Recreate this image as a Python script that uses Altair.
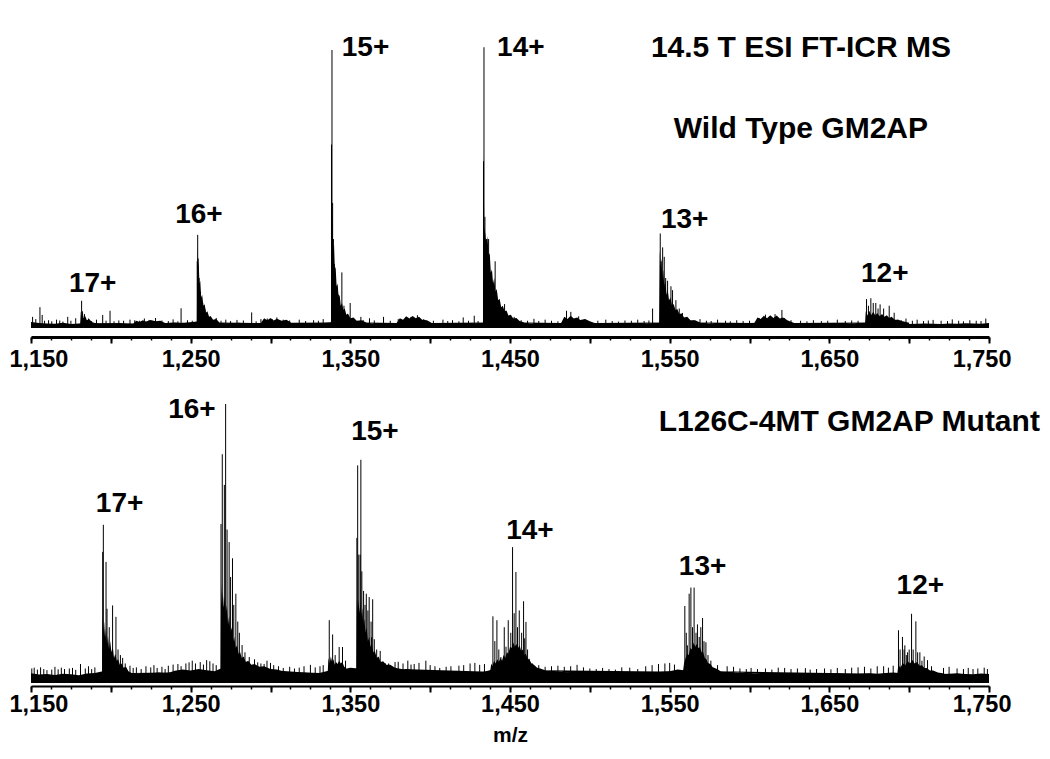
import altair as alt
import pandas as pd

X_MIN, X_MAX = 1150, 1750
FLOOR_STEP = 5
MAJOR_TICKS = [1150, 1200, 1250, 1300, 1350, 1400, 1450, 1500, 1550, 1600, 1650, 1700, 1750]
MINOR_TICKS = [1150, 1162.5, 1175, 1187.5, 1200, 1212.5, 1225, 1237.5, 1250, 1262.5, 1275, 1287.5,
               1300, 1312.5, 1325, 1337.5, 1350, 1362.5, 1375, 1387.5, 1400, 1412.5, 1425, 1437.5,
               1450, 1462.5, 1475, 1487.5, 1500, 1512.5, 1525, 1537.5, 1550, 1562.5, 1575, 1587.5,
               1600, 1612.5, 1625, 1637.5, 1650, 1662.5, 1675, 1687.5, 1700, 1712.5, 1725, 1737.5, 1750]

# ---------------- Wild type (top) ----------------
top_floor = [2.2, 1.8, 1.6, 1.5, 1.9, 1.4, 1.6, 2.0, 1.7, 1.5,
             1.6, 1.8, 1.5, 1.4, 1.7, 1.9, 1.6, 1.8, 2.0, 1.7,
             2.1, 2.4, 2.0, 1.8, 1.6, 1.7, 1.9, 1.6, 1.8, 1.7,
             1.9, 1.8, 1.6, 1.5, 1.7, 1.4, 1.6, 1.9, 2.2, 2.0,
             1.8, 1.7, 1.6, 1.5, 1.6, 1.4, 1.5, 1.7, 1.6, 1.5,
             1.4, 1.5, 1.6, 1.7, 1.5, 1.8, 1.6, 2.0, 2.2, 1.9,
             1.7, 1.6, 1.5, 1.4, 1.6, 1.5, 1.7, 1.6, 1.8, 1.7,
             1.6, 1.5, 1.4, 1.6, 1.5, 1.7, 1.5, 1.6, 1.5, 2.0,
             2.2, 1.9, 1.7, 1.6, 1.5, 1.4, 1.6, 1.5, 1.7, 1.6,
             1.8, 1.9, 1.7, 1.6, 1.5, 1.4, 1.6, 1.5, 1.4, 1.6,
             1.5, 1.4, 1.6, 1.5, 1.8, 1.9, 1.7, 1.6, 1.5, 1.6,
             1.4, 1.5, 1.6, 1.5, 1.4, 1.6, 1.5, 1.7, 1.6, 1.5,
             1.8]

top_clusters = {
    "z17": [(1180.8, 1.8), (1181.2, 6), (1181.8, 4), (1182.3, 5.5), (1183, 3.5), (1184, 4.2),
            (1185, 2.8), (1186.5, 3.2), (1188, 2.2), (1190, 1.8)],
    "h1": [(1214, 1.6), (1216, 2.6), (1218, 2.2), (1220, 2.8), (1222, 2.3), (1225, 2.9),
           (1228, 2.4), (1231, 2.6), (1234, 1.8)],
    "z16": [(1253.9, 2), (1254.2, 30), (1254.6, 22), (1255, 24), (1255.5, 16), (1256, 17),
            (1256.6, 11), (1257.2, 12), (1258, 8), (1258.8, 8.5), (1259.6, 5.5), (1260.5, 6),
            (1261.5, 4), (1262.5, 4.3), (1264, 3), (1266, 3.2), (1268, 2)],
    "h2": [(1294, 1.8), (1296, 3.5), (1298, 2.8), (1300, 3.6), (1302, 2.7), (1304, 3.3),
           (1307, 2.6), (1310, 3), (1313, 1.9)],
    "z15": [(1337.9, 2), (1338.2, 62), (1338.6, 40), (1339, 33), (1339.4, 28), (1339.8, 30),
            (1340.3, 21), (1340.8, 22), (1341.4, 15), (1342, 16), (1342.7, 11), (1343.3, 12),
            (1344, 8), (1344.8, 9), (1345.6, 6.5), (1346.5, 7), (1347.5, 4.8), (1348.5, 5.2),
            (1350, 3.5), (1352, 3.8), (1354, 2.6), (1357, 2.8), (1360, 2)],
    "h3": [(1379, 1.8), (1381, 3.5), (1383, 3), (1385, 4.2), (1387, 3.4), (1389, 4.3),
           (1391, 3.5), (1393, 4), (1395, 3), (1398, 2.8), (1401, 1.8)],
    "z14": [(1433.1, 2), (1433.4, 62), (1433.9, 36), (1434.5, 34), (1435.2, 30), (1435.9, 33),
            (1436.6, 26), (1437.3, 27), (1438, 20), (1438.7, 21), (1439.4, 16), (1440.1, 18),
            (1440.9, 13), (1441.7, 14), (1442.6, 10), (1443.5, 10.5), (1444.5, 7.5),
            (1445.5, 8), (1446.6, 6), (1447.8, 6.3), (1449, 4.5), (1450.5, 4.8), (1452, 3.4),
            (1454, 3.6), (1456, 2.5), (1459, 2)],
    "h4": [(1482, 1.8), (1484, 4), (1486, 3.2), (1488, 4.4), (1490, 3.4), (1492, 3.8),
           (1494, 2.9), (1497, 3.2), (1500, 2.4), (1503, 1.8)],
    "z13": [(1543.4, 2), (1543.8, 28), (1544.3, 22), (1544.8, 25), (1545.4, 18), (1546, 21),
            (1546.6, 15), (1547.3, 17), (1548, 12), (1548.8, 13.5), (1549.6, 10), (1550.5, 11),
            (1551.5, 8), (1552.5, 8.6), (1553.6, 6.5), (1554.8, 6.8), (1556, 5), (1557.5, 5.2),
            (1559, 3.8), (1561, 4), (1563, 2.8), (1566, 2.8), (1569, 2)],
    "h5": [(1603, 1.8), (1605, 3.8), (1607, 3.2), (1609, 4.4), (1611, 3.5), (1613, 4.6),
           (1615, 3.6), (1617, 4.5), (1619, 3.4), (1621, 3.8), (1624, 2.7), (1628, 1.8)],
    "z12": [(1672.4, 2), (1672.8, 6), (1673.8, 4.5), (1675, 6.2), (1676.2, 4.6), (1677.5, 5.8),
            (1678.8, 4.5), (1680, 5.4), (1681.5, 4.2), (1683, 5), (1684.5, 4), (1686, 4.6),
            (1687.5, 3.6), (1689, 4), (1691, 3), (1693, 3), (1696, 2.4), (1700, 1.9)],
}

top_spikes = [
    (1151, 4), (1153, 3.2), (1155.6, 7.5), (1157, 4.7), (1158.5, 2.6), (1161, 2.8), (1163, 2.4),
    (1166, 3.0), (1168, 2.7), (1170, 2.3), (1173, 4), (1175, 2.6), (1178, 3.5), (1181.7, 9.8),
    (1182.3, 6), (1183.5, 5), (1186, 3.4), (1188, 2.5), (1191, 3.0), (1194.9, 4.7), (1197, 2.6),
    (1199.5, 6.2), (1202, 2.4), (1205, 2.7), (1208, 2.6), (1212, 3.0), (1215, 2.8), (1218, 2.6),
    (1221, 3.4), (1224, 2.9), (1228, 3.6), (1232, 2.7), (1236, 2.5), (1239, 3.1), (1242, 2.4),
    (1244, 7.1), (1248, 2.8), (1251, 2.6), (1254.1, 24), (1254.4, 33.5), (1254.7, 25),
    (1255.3, 18), (1256, 13), (1256.8, 10), (1257.5, 9), (1259, 6.7), (1260, 5.5), (1263, 2.8),
    (1266, 3.6), (1269, 2.6), (1272, 3.0), (1275, 2.5), (1279, 2.9), (1283, 2.7), (1288.2, 5.6),
    (1291, 2.4), (1294, 3.2), (1298, 3.4), (1301, 3.2), (1304, 3.8), (1308, 3.0), (1312, 2.7),
    (1318, 3.0), (1322, 2.5), (1327, 2.8), (1330, 2.6), (1333, 3.2),
    (1338.2, 66), (1338.5, 100), (1338.9, 45), (1339.4, 32), (1340, 23), (1340.7, 18),
    (1341.5, 15), (1342.5, 12), (1344.7, 20), (1346, 8), (1349.9, 9), (1352, 3.0),
    (1356.6, 4), (1358, 2.9), (1362, 3.5), (1365, 2.7), (1370.8, 4), (1375, 2.6), (1380, 3.2),
    (1385, 3.8), (1388, 4.0), (1392, 4.6), (1396, 3.2), (1402, 2.6), (1408, 3.0), (1411, 2.5),
    (1414, 2.8), (1418, 2.4), (1420.7, 3.8), (1424, 2.6), (1427.6, 4.4), (1430, 2.5),
    (1433.4, 60), (1433.7, 101), (1434.3, 40), (1435.3, 32), (1436.6, 32), (1438, 18),
    (1439.2, 16), (1440.7, 24), (1443, 10), (1446.6, 8.6), (1452.6, 4), (1457, 2.8),
    (1461, 2.6), (1465, 3.3), (1468, 2.5), (1472, 3.0), (1476, 2.6), (1480, 2.4),
    (1485.4, 6.2), (1488.1, 5.8), (1493, 4.2), (1497, 3.0), (1505, 2.6), (1510, 3.0),
    (1514, 2.5), (1518, 2.3), (1522, 2.7), (1526, 2.6), (1530, 3.0), (1534, 2.5), (1537, 2.7),
    (1539.3, 7), (1544.1, 34), (1544.6, 24), (1545.6, 29), (1546.6, 25.6), (1547.5, 18),
    (1548.7, 17), (1550.8, 15), (1551.8, 13.6), (1553.9, 10), (1556, 7), (1558, 5.4),
    (1562, 3.0), (1565, 2.8), (1569, 3.2), (1573, 2.6), (1576, 2.5), (1580, 3.0), (1585, 2.6),
    (1588, 2.4), (1592, 2.8), (1596, 2.5), (1600, 2.6), (1606, 3.6), (1610, 4.8), (1613, 4.2),
    (1616, 5.0), (1620.3, 6.5), (1622, 3.6), (1626, 2.8), (1632, 2.6), (1636, 2.4), (1640, 2.8),
    (1645, 2.5), (1649, 2.6), (1655, 3.0), (1660, 2.5), (1664, 2.7), (1668, 2.6),
    (1673.3, 10.4), (1674.5, 8), (1676, 10.7), (1677.5, 9), (1679.1, 9), (1680.5, 7),
    (1681.8, 8.5), (1684, 7), (1687.5, 8), (1690.6, 5.5), (1693, 3.0), (1695, 2.8),
    (1698, 3.4), (1702, 2.6), (1705, 3.0), (1709, 2.5), (1712, 2.7), (1715, 2.9), (1720, 2.6),
    (1724, 2.5), (1727, 3.1), (1731, 2.6), (1734, 2.4), (1738, 2.8), (1742, 2.6), (1745, 2.5),
    (1748, 3.4),
]

top_charge_labels = [("17+", 1188.6, 15.8), ("16+", 1255.2, 40.8), ("15+", 1359.5, 100.8),
                     ("14+", 1456.8, 100.8), ("13+", 1559.4, 38.9), ("12+", 1684.7, 19.3)]
top_titles = [("14.5 T ESI FT-ICR MS", 1632.2, 100.7), ("Wild Type GM2AP", 1632.2, 71.6)]

# ---------------- L126C-4MT mutant (bottom) ----------------
bot_floor = [3.5, 3.0, 3.2, 2.9, 3.3, 3.1, 2.8, 3.4, 3.6, 4.2,
             3.8, 3.4, 3.3, 3.6, 3.2, 3.5, 3.8, 3.4, 4.4, 4.8,
             4.5, 5.0, 4.6, 4.2, 5.5, 5.2, 4.8, 4.6, 5.0, 4.4,
             4.8, 4.5, 4.2, 4.0, 3.8, 3.6, 3.5, 4.2, 5.0, 4.8,
             5.5, 5.2, 4.8, 4.5, 5.0, 4.6, 4.4, 5.0, 4.6, 4.2,
             4.5, 4.0, 3.8, 3.6, 3.5, 3.9, 3.6, 4.2, 5.0, 5.2,
             5.5, 5.0, 4.6, 4.2, 4.0, 4.4, 4.1, 3.8, 4.0, 3.7,
             3.6, 3.4, 3.3, 3.5, 3.2, 3.4, 3.0, 3.6, 3.8, 4.0,
             4.2, 4.8, 4.5, 4.0, 3.8, 3.6, 3.5, 3.2, 3.4, 3.3,
             3.5, 3.2, 3.4, 3.6, 3.3, 3.1, 3.4, 3.2, 3.5, 3.3,
             3.1, 3.4, 3.2, 3.0, 3.3, 3.5, 3.2, 3.6, 3.8, 3.5,
             4.0, 3.8, 3.6, 3.4, 3.2, 3.3, 3.5, 3.2, 3.1, 3.4,
             3.2]

bot_clusters = {
    "z17": [(1194.5, 3), (1194.8, 24), (1195.3, 18), (1195.8, 22), (1196.4, 16), (1197, 20),
            (1197.6, 14), (1198.2, 17), (1198.9, 12), (1199.6, 15), (1200.4, 11), (1201.2, 13),
            (1202, 9), (1202.8, 10.5), (1203.7, 8), (1204.6, 8.5), (1205.6, 6.5), (1206.7, 7),
            (1208, 5.5), (1209.5, 5.8), (1211, 4.2), (1213, 3.6)],
    "z16": [(1268.8, 4), (1269.1, 36), (1269.6, 28), (1270.1, 33), (1270.7, 27), (1271.3, 31),
            (1272, 25), (1272.7, 28), (1273.4, 21), (1274.1, 24), (1274.9, 18), (1275.7, 20),
            (1276.5, 15), (1277.3, 16.5), (1278.2, 12.5), (1279.1, 13.5), (1280, 10.5),
            (1281, 11), (1282, 9), (1283.2, 9.5), (1284.5, 7.5), (1286, 8), (1288, 6.5),
            (1290, 6.8), (1293, 5.8), (1296, 6), (1300, 5), (1304, 4.8), (1308, 4)],
    "pre15": [(1335.8, 3.5), (1336.3, 9), (1337, 7), (1337.8, 9.5), (1338.6, 7.5), (1339.4, 8.5),
              (1340.2, 6.5), (1341, 7.5), (1342, 6.8), (1343, 8), (1344, 7), (1345, 7.6),
              (1346, 6), (1347.5, 5), (1349, 4.5), (1351, 4)],
    "z15": [(1353.8, 4), (1354.1, 30), (1354.6, 26), (1355.1, 30), (1355.7, 25), (1356.3, 29),
            (1356.9, 24), (1357.5, 27), (1358.1, 21), (1358.8, 23), (1359.5, 18), (1360.2, 20),
            (1361, 15), (1361.8, 16.5), (1362.6, 13), (1363.5, 14), (1364.4, 11), (1365.4, 11.5),
            (1366.5, 9), (1367.7, 9.5), (1369, 7.5), (1370.5, 7.8), (1372.5, 6.5), (1375, 6.5),
            (1378, 5.5), (1382, 5)],
    "z14": [(1437.5, 4), (1438.3, 7), (1439, 6), (1440, 8), (1441, 7), (1442, 8.5), (1443, 7.5),
            (1444, 9), (1445, 8), (1446, 10), (1447, 9), (1448, 11), (1449, 10.5), (1450, 13),
            (1451, 12.5), (1452, 14.5), (1453, 13), (1454, 14), (1455, 12.5), (1456, 13.5),
            (1457, 11.5), (1458, 12), (1459, 10), (1460, 10.5), (1461, 8.5), (1462, 8.5),
            (1463.5, 7), (1465, 6.5), (1467, 5.5), (1469, 5.2), (1472, 4.6)],
    "z13": [(1558.3, 4), (1559, 7), (1560, 9), (1561, 10.5), (1562, 10), (1563, 12.5),
            (1564, 12), (1565, 14.5), (1566, 13), (1567, 14), (1568, 12.5), (1569, 12.8),
            (1570, 11), (1571, 11), (1572, 9), (1573, 8.5), (1574, 7.2), (1575.5, 6.8),
            (1577, 5.6), (1579, 5.2), (1582, 4.2)],
    "z12": [(1692.6, 3.2), (1693.2, 6.5), (1694.5, 5.5), (1696, 7.2), (1697.5, 6.4), (1699, 7.8),
            (1700.5, 7), (1702, 8.2), (1703.5, 7), (1705, 7.5), (1706.5, 6.2), (1708, 6.4),
            (1709.5, 5.4), (1711, 5.4), (1713, 4.5), (1715, 4.5), (1718, 3.8), (1722, 3.4)],
}

bot_spikes = [
    (1150.5, 5.2), (1152, 5.5), (1154, 4.8), (1156, 5.6), (1158, 5.0), (1160, 4.6), (1163, 4.8),
    (1165, 5.8), (1167, 4.9), (1169, 5.5), (1171, 5.0), (1174, 5.2), (1176, 5.4), (1178, 4.7),
    (1181, 6.8), (1184, 5.2), (1186, 6.0), (1188, 5.0), (1190, 5.6),
    (1194.9, 47), (1195.3, 56.7), (1197, 43.4), (1197.6, 26.6), (1199, 20), (1201.1, 27.8),
    (1203.2, 23.7), (1204.5, 12), (1206, 10), (1207.4, 9), (1209, 7),
    (1212, 6.2), (1214, 5.4), (1216, 5.6), (1219, 5.0), (1222, 6.0), (1225, 5.6), (1227, 6.4),
    (1229, 5.4), (1232, 5.8), (1234, 5.0), (1236, 6.2), (1239, 6.6), (1242, 6.8), (1244, 6.0),
    (1247, 7.0), (1249, 7.4), (1251, 8.0), (1253, 7.0), (1256, 7.5), (1258, 6.6), (1260, 8.2),
    (1262, 7.8), (1264, 7.0), (1266, 6.4),
    (1269, 57), (1269.8, 82), (1271.1, 71), (1271.9, 100), (1272.8, 55), (1274.1, 50.5),
    (1275, 38), (1276.2, 44.7), (1277, 28), (1278.3, 32), (1279.5, 22), (1280.5, 18),
    (1282.2, 13.6), (1284, 11), (1286.7, 9.3), (1290, 8.5), (1292, 7.4), (1294, 7),
    (1296, 6.8), (1297.8, 8), (1300, 7.2), (1302, 6.4), (1305, 6.0), (1308, 5.4), (1312, 5.8),
    (1315, 5.2), (1318, 5.5), (1321, 6.0), (1325, 6.5), (1328, 5.6), (1331, 6.0), (1333, 6.4),
    (1336.8, 22.5), (1338.9, 17.4), (1340.5, 10), (1343, 12.9), (1345.1, 12.9), (1347, 8),
    (1354.1, 52), (1354.6, 78), (1355.3, 46), (1356.2, 46), (1356.6, 80), (1357.2, 40),
    (1358.3, 33), (1359.2, 28), (1360, 32), (1361, 26), (1361.8, 30.8), (1363, 22),
    (1363.3, 16.4), (1364, 30), (1365, 15.7), (1366.5, 12), (1368.7, 11.5), (1372, 7),
    (1374, 7.0), (1378, 7.5), (1380, 7.6), (1383, 7.0), (1386, 8), (1388, 6.6), (1390, 6.8),
    (1393, 7.2), (1397.3, 8), (1400, 6.4), (1403, 6.0), (1406, 5.4), (1410, 5.8), (1413, 6.0),
    (1418, 6.2), (1421, 6.4), (1425, 7.0), (1428, 7.2), (1431, 6.5), (1434, 6.8),
    (1439.3, 23.9), (1440.5, 15), (1441.8, 22.5), (1443, 12), (1444.3, 9.3), (1446.4, 20),
    (1447.5, 13), (1448.9, 22.5), (1450.5, 18), (1451.6, 48.7), (1452.6, 25), (1453.7, 39.8),
    (1454.7, 20), (1455.8, 26), (1457.3, 18), (1458.5, 29.3), (1459.2, 16), (1460, 21.9),
    (1461, 12), (1462, 8.7), (1464, 7),
    (1468, 6.4), (1472, 5.8), (1476, 6.0), (1480, 6.2), (1484, 5.8), (1488, 6.0), (1492, 6.5),
    (1496, 5.6), (1500, 5.2), (1504, 5.0), (1508, 5.4), (1512, 5.0), (1516, 4.8), (1520, 5.6),
    (1525, 5.5), (1530, 5.0), (1535, 6.0), (1539, 6.4), (1543, 6.8), (1547, 7.0), (1550, 7.2),
    (1553, 6.6),
    (1559.5, 27.6), (1560.4, 18), (1561.1, 13.5), (1562.2, 32), (1563.3, 34.2), (1564.3, 20),
    (1565.3, 34.2), (1566.5, 18), (1567.4, 21), (1568.5, 16.5), (1569.5, 20), (1570.6, 23.3),
    (1571.5, 15), (1572.7, 14.6), (1574, 10), (1575.8, 8),
    (1580, 6.4), (1586, 6.0), (1590, 5.8), (1594, 5.2), (1598, 5.0), (1601, 5.4), (1605, 5.0),
    (1610, 5.2), (1614, 4.8), (1618, 5.5), (1622, 5.4), (1626, 5.0), (1630, 5.2), (1635, 5.3),
    (1638, 4.8), (1642, 5.0), (1647, 5.2), (1651, 4.9), (1655, 5.4), (1660, 5.0), (1664, 5.5),
    (1668, 5.6), (1672, 5.8), (1676, 5.2), (1680, 6.0), (1684, 6.0), (1687, 5.5), (1690, 6.2),
    (1693.3, 18.9), (1694.3, 12), (1695.8, 16.5), (1696.8, 12), (1697.3, 13.5), (1698.2, 10),
    (1699, 11), (1700, 12), (1701.5, 24.8), (1702.5, 12), (1704.2, 22.1), (1705.3, 11),
    (1706.7, 11), (1708, 8), (1709.4, 9.5), (1711.5, 8.2), (1714, 6), (1721.5, 5.4),
    (1725, 5.8), (1730, 5.2), (1734, 5.0), (1737, 5.4), (1740, 5.0), (1743, 5.2), (1747, 5.5),
    (1749, 5.0),
]

bot_charge_labels = [("17+", 1205.5, 64.2), ("16+", 1250.8, 97.7), ("15+", 1365.4, 90.0),
                     ("14+", 1462.5, 54.5), ("13+", 1570.6, 41.7), ("12+", 1707.0, 34.8)]
bot_titles = [("L126C-4MT GM2AP Mutant", 1662.5, 93.5)]

FONT = "Liberation Sans"


def floor_frame(vals):
    return pd.DataFrame({"mz": [X_MIN + FLOOR_STEP * i for i in range(len(vals))], "v": vals})


def cluster_frame(clusters):
    rows = []
    for name, pts in clusters.items():
        for mz, v in pts:
            rows.append({"g": name, "mz": mz, "v": v})
    return pd.DataFrame(rows)


def spike_frame(spikes):
    return pd.DataFrame({"mz": [s[0] for s in spikes], "v": [s[1] for s in spikes],
                         "z": [0] * len(spikes)})


def text_frame(items):
    return pd.DataFrame({"t": [i[0] for i in items], "mz": [i[1] for i in items],
                         "v": [i[2] for i in items]})


def panel(floor, clusters, spikes, charges, titles, ydom, height, dom_width, lab_pad, xtitle):
    xs = alt.Scale(domain=[X_MIN, X_MAX], nice=False, zero=False)
    ys = alt.Scale(domain=ydom, nice=False, zero=False)
    major = alt.Axis(orient="bottom", values=MAJOR_TICKS, format=",d",
                     labelExpr="datum.value % 100 == 50 ? datum.label : ''",
                     tickSize=6, tickWidth=2, tickColor="black", domainColor="black",
                     domainWidth=dom_width, labelFont=FONT, labelFontWeight="bold",
                     labelFontSize=23.5, labelColor="black", labelPadding=lab_pad,
                     labelFlush=True, labelFlushOffset=22, labelOverlap=False, grid=False,
                     title=xtitle, titleFont=FONT, titleFontWeight="bold", titleFontSize=21,
                     titleColor="black", titlePadding=9)
    minor = alt.Axis(orient="bottom", values=MINOR_TICKS, tickSize=3, tickWidth=1.5,
                     tickColor="black", labels=False, domain=False, grid=False, title="")
    base_y = alt.Y("v:Q", scale=ys, axis=None)
    l_floor = alt.Chart(floor_frame(floor)).mark_area(color="black", interpolate="linear").encode(
        x=alt.X("mz:Q", scale=xs, axis=major), y=base_y)
    l_env = alt.Chart(cluster_frame(clusters)).mark_area(color="black", interpolate="linear").encode(
        x=alt.X("mz:Q", scale=xs, axis=minor), y=base_y, detail="g:N")
    l_spk = alt.Chart(spike_frame(spikes)).mark_rule(color="black", strokeWidth=1).encode(
        x=alt.X("mz:Q", scale=xs, axis=None), y=alt.Y("z:Q", scale=ys, axis=None), y2="v:Q")
    l_chg = alt.Chart(text_frame(charges)).mark_text(
        font=FONT, fontWeight="bold", fontSize=28, color="black", align="center",
        baseline="middle").encode(x=alt.X("mz:Q", scale=xs, axis=None),
                                  y=alt.Y("v:Q", scale=ys, axis=None), text="t:N")
    l_tit = alt.Chart(text_frame(titles)).mark_text(
        font=FONT, fontWeight="bold", fontSize=30, color="black", align="center",
        baseline="middle").encode(x=alt.X("mz:Q", scale=xs, axis=None),
                                  y=alt.Y("v:Q", scale=ys, axis=None), text="t:N")
    return alt.layer(l_floor, l_env, l_spk, l_chg, l_tit).resolve_axis(x="independent").properties(
        width=958, height=height)


top = panel(top_floor, top_clusters, top_spikes, top_charge_labels, top_titles,
            [-3.24, 114.75], 328, 3, 4, "")
bottom = panel(bot_floor, bot_clusters, bot_spikes, bot_charge_labels, bot_titles,
               [-1.08, 106.1], 299, 2, 0, "m/z")

chart = alt.vconcat(top, bottom, spacing=15).properties(
    padding={"left": 0, "top": 0, "right": 0, "bottom": 0},
    background="white",
).configure_view(stroke="transparent")

chart.save("out.html", embed_options={"renderer": "svg", "actions": False})
